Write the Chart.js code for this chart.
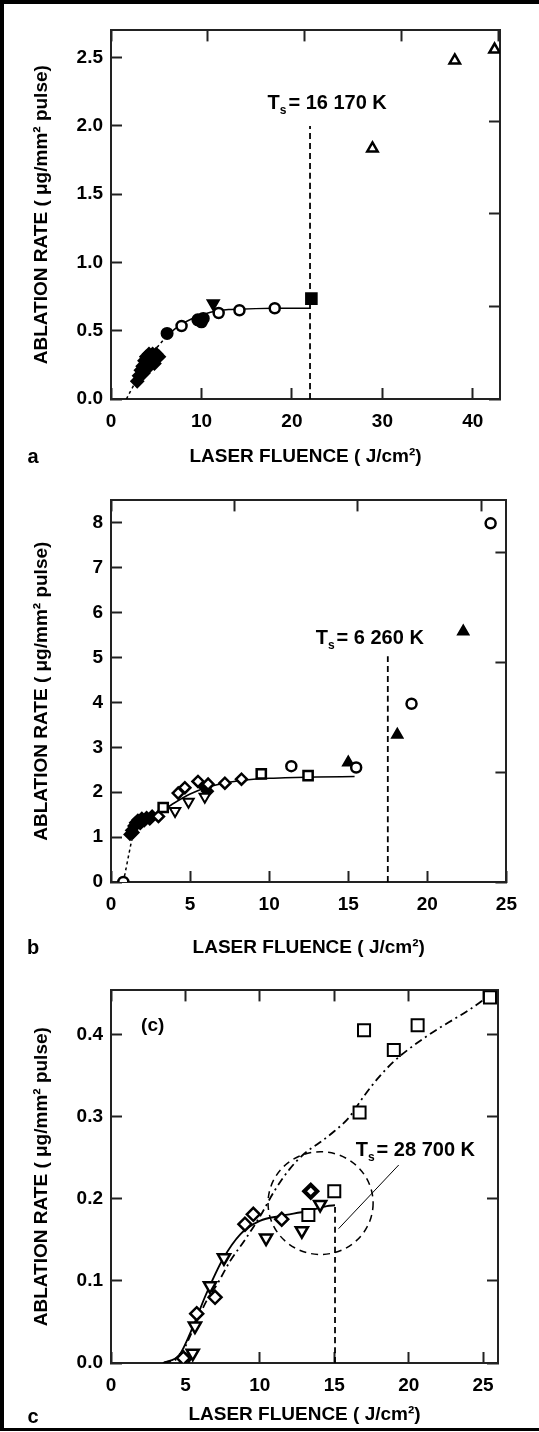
<!DOCTYPE html>
<html>
<head>
<meta charset="utf-8">
<script src="https://cdn.jsdelivr.net/npm/chart.js"></script>
<style>
  html, body { margin: 0; padding: 0; background: #fff; }
  #frame { position: relative; width: 539px; height: 1432px; overflow: hidden; }
  #frame canvas { position: absolute; left: 0; }
  .bar { position: absolute; background: #000; }
</style>
</head>
<body>
<div id="frame">
  <canvas id="chartA" width="539" height="470" style="top:0px"></canvas>
  <canvas id="chartB" width="539" height="490" style="top:470px"></canvas>
  <canvas id="chartC" width="539" height="472" style="top:960px"></canvas>
  <div class="bar" style="left:0;top:0;width:4px;height:1431px"></div>
  <div class="bar" style="left:0;top:0;width:539px;height:4px"></div>
  <div class="bar" style="left:0;top:1428px;width:539px;height:3px"></div>
</div>
<script>
const FONT = "'Liberation Sans', Arial, sans-serif";
const AXIS = '#222';
const X_TITLE = 'LASER FLUENCE ( J/cm²)';
const Y_TITLE = 'ABLATION RATE ( μg/mm² pulse)';

// ---- panel a : [fluence, rate]
const aFilledDiamond = [[2.9,0.13],[3.1,0.17],[3.3,0.21],[3.5,0.24],[3.7,0.28],[3.9,0.31],[4.2,0.33],[4.6,0.33],[5.0,0.33],[5.3,0.31],[4.4,0.27],[4.8,0.26],[3.6,0.19],[4.1,0.23]];
const aFilledCircle = [[6.2,0.48],[9.6,0.58],[10.2,0.59],[10.0,0.565]];
const aOpenCircle = [[7.8,0.535],[11.9,0.63],[14.2,0.65],[18.1,0.665]];
const aFilledTriDown = [[11.3,0.70]];
const aFilledSquare = [[22.15,0.735]];
const aOpenTri = [[28.9,1.835],[38.0,2.48],[42.4,2.56]];
const aFitDashed = [[1.7,0],[3.0,0.16],[4.2,0.3],[6.0,0.45]];
const aFitSolid = [[6.0,0.45],[7,0.51],[8,0.555],[9,0.59],[10,0.615],[11,0.635],[12,0.648],[13,0.655],[14,0.658],[16,0.662],[18,0.664],[22.0,0.665]];
const aTsLine = [[22.0,0],[22.0,2.0]];

// ---- panel b
const bOpenCircle = [[0.78,0],[11.4,2.58],[15.5,2.55],[19.0,3.97],[24.0,7.99]];
const bOpenSquare = [[3.3,1.66],[9.5,2.41],[12.46,2.37]];
const bOpenDiamond = [[3.0,1.46],[4.25,1.98],[4.67,2.1],[5.5,2.24],[6.14,2.18],[7.2,2.2],[8.25,2.29]];
const bOpenTriDown = [[4.05,1.58],[4.9,1.79],[5.93,1.9]];
const bFilledDiamond = [[1.2,1.06],[1.3,1.15],[1.45,1.25],[1.55,1.32],[1.7,1.38],[1.85,1.3],[1.95,1.42],[2.1,1.36],[2.25,1.44],[2.45,1.4],[2.6,1.47],[1.4,1.1],[5.95,2.1],[6.1,2.02]];
const bFilledTri = [[15.0,2.66],[18.1,3.28],[22.27,5.58]];
const bFitDashed = [[0.78,0],[1.3,0.92]];
const bFitSolid = [[1.3,0.92],[1.5,1.08],[2,1.3],[2.5,1.42],[3,1.53],[4,1.76],[5,1.96],[6,2.1],[7,2.19],[8,2.25],[9,2.29],[10,2.31],[11,2.32],[13,2.34],[15.4,2.35]];
const bTsLine = [[17.5,0],[17.5,5.03]];

// ---- panel c
const cOpenSquare = [[13.26,0.18],[15.0,0.209],[16.7,0.305],[17.0,0.405],[19.0,0.381],[20.6,0.411],[25.46,0.445]];
const cOpenDiamond = [[4.86,0.006],[5.76,0.06],[6.99,0.08],[9.0,0.169],[9.56,0.181],[11.47,0.175]];
const cBoldDiamond = [[13.42,0.209]];
const cOpenTriDown = [[5.1,0.006],[5.49,0.012],[5.64,0.045],[6.65,0.094],[7.59,0.128],[10.42,0.152],[12.82,0.161],[14.05,0.193]];
const cFitSolid = [[3.5,0],[4.6,0.01],[5.5,0.044],[6.4,0.084],[7.5,0.126],[8.7,0.157],[10.0,0.173],[11.4,0.179],[13.2,0.185],[14.5,0.191],[15.05,0.192]];
const cFitDashDot = [[3.5,0],[4.6,0.008],[5.5,0.04],[6.4,0.075],[7.2,0.098],[8.0,0.124],[9.0,0.15],[10.0,0.178],[11.0,0.21],[12.0,0.236],[13.0,0.255],[14.0,0.268],[15.0,0.282],[16.0,0.299],[17.0,0.325],[18.0,0.348],[19.0,0.367],[20.0,0.382],[21.0,0.395],[22.0,0.407],[23.0,0.418],[24.0,0.429],[25.1,0.443]];
const cTsLine = [[15.05,0],[15.05,0.192]];

function pts(arr) {
  return arr.map(p => ({x: p[0], y: p[1]}));
}

function markers(data, style, filled, r, rot, bw) {
  return {
    data: pts(data),
    pointStyle: style,
    rotation: rot || 0,
    pointRadius: r,
    pointBorderWidth: bw || 2,
    pointBackgroundColor: filled ? '#000' : '#fff',
    pointBorderColor: '#000',
    showLine: false,
    order: 1
  };
}

function line(data, dash, width) {
  return {
    data: pts(data),
    showLine: true,
    pointRadius: 0,
    borderColor: '#000',
    borderWidth: width || 1.5,
    borderDash: dash || [],
    cubicInterpolationMode: 'monotone',
    order: 2
  };
}

function makeScales(p) {
  const tickFont = {family: FONT, size: 19, weight: 'bold'};
  const titleFont = {family: FONT, size: 19, weight: 'bold'};
  const grid = {drawOnChartArea: false, tickLength: -11, tickColor: AXIS, tickWidth: 2};
  const border = {color: AXIS, width: 2};
  return {
    x: {
      type: 'linear', position: 'bottom', min: 0, max: p.xMax,
      ticks: {stepSize: p.xStep, includeBounds: false, padding: 22, color: '#000', font: tickFont, maxRotation: 0, autoSkip: false},
      grid: grid, border: border,
      title: {display: true, text: X_TITLE, color: '#000', font: titleFont, padding: {top: 0, bottom: p.xTitlePad}},
      afterFit: s => { s.height = p.xHeight; }
    },
    y: {
      type: 'linear', position: 'left', min: 0, max: p.yMax,
      ticks: {stepSize: p.yStep, includeBounds: false, padding: 19, color: '#000', font: tickFont, callback: p.yFmt},
      grid: grid, border: border,
      title: {display: true, text: Y_TITLE, color: '#000', font: titleFont, padding: {top: 30, bottom: 0}},
      afterFit: s => { s.width = 111; }
    },
    x2: {
      type: 'linear', axis: 'x', position: 'top', min: 0, max: p.x2Max,
      ticks: {display: false, stepSize: p.x2Step, includeBounds: false},
      grid: grid, border: border,
      afterFit: s => { s.height = 0; }
    },
    y2: {
      type: 'linear', axis: 'y', position: 'right', min: 0, max: p.y2Max,
      ticks: {display: false, stepSize: p.y2Step, includeBounds: false},
      grid: grid, border: border,
      afterFit: s => { s.width = 0; }
    }
  };
}

const panelText = {
  id: 'panelText',
  afterDraw(chart, args, o) {
    const ctx = chart.ctx;
    const xs = chart.scales.x, ys = chart.scales.y;
    ctx.save();
    ctx.fillStyle = '#000';
    ctx.strokeStyle = '#000';
    ctx.textBaseline = 'middle';
    ctx.font = 'bold 20px ' + FONT;
    ctx.textAlign = 'center';
    ctx.fillText(o.letter, 33, o.letterY);

    // T_s label
    let px = xs.getPixelForValue(o.tsX);
    const py = ys.getPixelForValue(o.tsY);
    ctx.textAlign = 'left';
    ctx.fillText('T', px, py);
    px += ctx.measureText('T').width;
    ctx.font = 'bold 12px ' + FONT;
    ctx.fillText('s', px, py + 7);
    px += ctx.measureText('s').width + 2;
    ctx.font = 'bold 20px ' + FONT;
    ctx.fillText('= ' + o.tsText, px, py);

    if (o.circle) {
      const c = o.circle;
      const cx = xs.getPixelForValue(c.x), cy = ys.getPixelForValue(c.y);
      const rx = xs.getPixelForValue(c.x + c.rx) - cx;
      const ry = cy - ys.getPixelForValue(c.y + c.ry);
      ctx.lineWidth = 1.5;
      ctx.setLineDash([7, 5]);
      ctx.beginPath();
      ctx.ellipse(cx, cy, rx, ry, 0, 0, Math.PI * 2);
      ctx.stroke();
      ctx.setLineDash([]);
      ctx.lineWidth = 1;
      ctx.beginPath();
      ctx.moveTo(xs.getPixelForValue(o.pointer[0][0]), ys.getPixelForValue(o.pointer[0][1]));
      ctx.lineTo(xs.getPixelForValue(o.pointer[1][0]), ys.getPixelForValue(o.pointer[1][1]));
      ctx.stroke();
      ctx.font = 'bold 19px ' + FONT;
      ctx.textAlign = 'center';
      ctx.fillText('(c)', xs.getPixelForValue(o.tag[0]), ys.getPixelForValue(o.tag[1]));
    }
    ctx.restore();
  }
};

function makeChart(id, datasets, scaleOpts, padding, extras) {
  return new Chart(document.getElementById(id), {
    type: 'scatter',
    data: {datasets: datasets},
    options: {
      responsive: false,
      animation: false,
      devicePixelRatio: 1,
      layout: {padding: padding},
      scales: makeScales(scaleOpts),
      plugins: {legend: {display: false}, tooltip: {enabled: false}, panelText: extras}
    },
    plugins: [panelText]
  });
}

const fix1 = v => v.toFixed(1);
const fix0 = v => String(Math.round(v));

makeChart('chartA', [
  markers(aFilledDiamond, 'rectRot', true, 6),
  markers(aFilledCircle, 'circle', true, 5.5),
  markers(aOpenCircle, 'circle', false, 5, 0, 2.5),
  markers(aFilledTriDown, 'triangle', true, 6.5, 180),
  markers(aFilledSquare, 'rect', true, 7.5),
  markers(aOpenTri, 'triangle', false, 6, 0, 2.5),
  line(aFitDashed, [3, 3]),
  line(aFitSolid),
  line(aTsLine, [6, 4], 1.8)
], {xMax: 43, xStep: 10, yMax: 2.7, yStep: 0.5, yFmt: fix1, x2Max: 4.011, x2Step: 1, y2Max: 3.982, y2Step: 1, xHeight: 71, xTitlePad: 2},
{top: 16, right: 39, left: 0, bottom: 0},
{letter: 'a', letterY: 457, tsX: 17.3, tsY: 2.164, tsText: '16 170 K'});

makeChart('chartB', [
  markers(bOpenCircle, 'circle', false, 5, 0, 2.5),
  markers(bOpenSquare, 'rect', false, 6.5, 0, 2.5),
  markers(bOpenDiamond, 'rectRot', false, 5.5, 0, 2.5),
  markers(bOpenTriDown, 'triangle', false, 6, 180, 2),
  markers(bFilledDiamond, 'rectRot', true, 5.5),
  markers(bFilledTri, 'triangle', true, 6),
  line(bFitDashed, [3, 3]),
  line(bFitSolid),
  line(bTsLine, [6, 4], 1.8)
], {xMax: 25, xStep: 5, yMax: 8.5, yStep: 1, yFmt: fix0, x2Max: 3.205, x2Step: 1, y2Max: 3.479, y2Step: 1, xHeight: 78, xTitlePad: 1},
{top: 23, right: 32, left: 0, bottom: 0},
{letter: 'b', letterY: 478, tsX: 12.94, tsY: 5.42, tsText: '6 260 K'});

makeChart('chartC', [
  markers(cOpenSquare, 'rect', false, 8.5, 0, 2),
  markers(cOpenDiamond, 'rectRot', false, 6.5, 0, 2.5),
  markers(cBoldDiamond, 'rectRot', false, 6.5, 0, 4),
  markers(cOpenTriDown, 'triangle', false, 7, 180, 2.5),
  line(cFitSolid, [], 1.8),
  line(cFitDashDot, [8, 4, 2, 4], 1.8),
  line(cTsLine, [6, 4], 1.8)
], {xMax: 26, xStep: 5, yMax: 0.4535, yStep: 0.1, yFmt: fix1, x2Max: 26, x2Step: 5, y2Max: 0.4535, y2Step: 0.1, xHeight: 69, xTitlePad: 6},
{top: 24, right: 41, left: 0, bottom: 0},
{letter: 'c', letterY: 457, tsX: 16.44, tsY: 0.259, tsText: '28 700 K',
 circle: {x: 14.08, y: 0.1946, rx: 3.53, ry: 0.0625},
 pointer: [[19.33, 0.241], [15.29, 0.1635]], tag: [2.8, 0.41]});
</script>
</body>
</html>
